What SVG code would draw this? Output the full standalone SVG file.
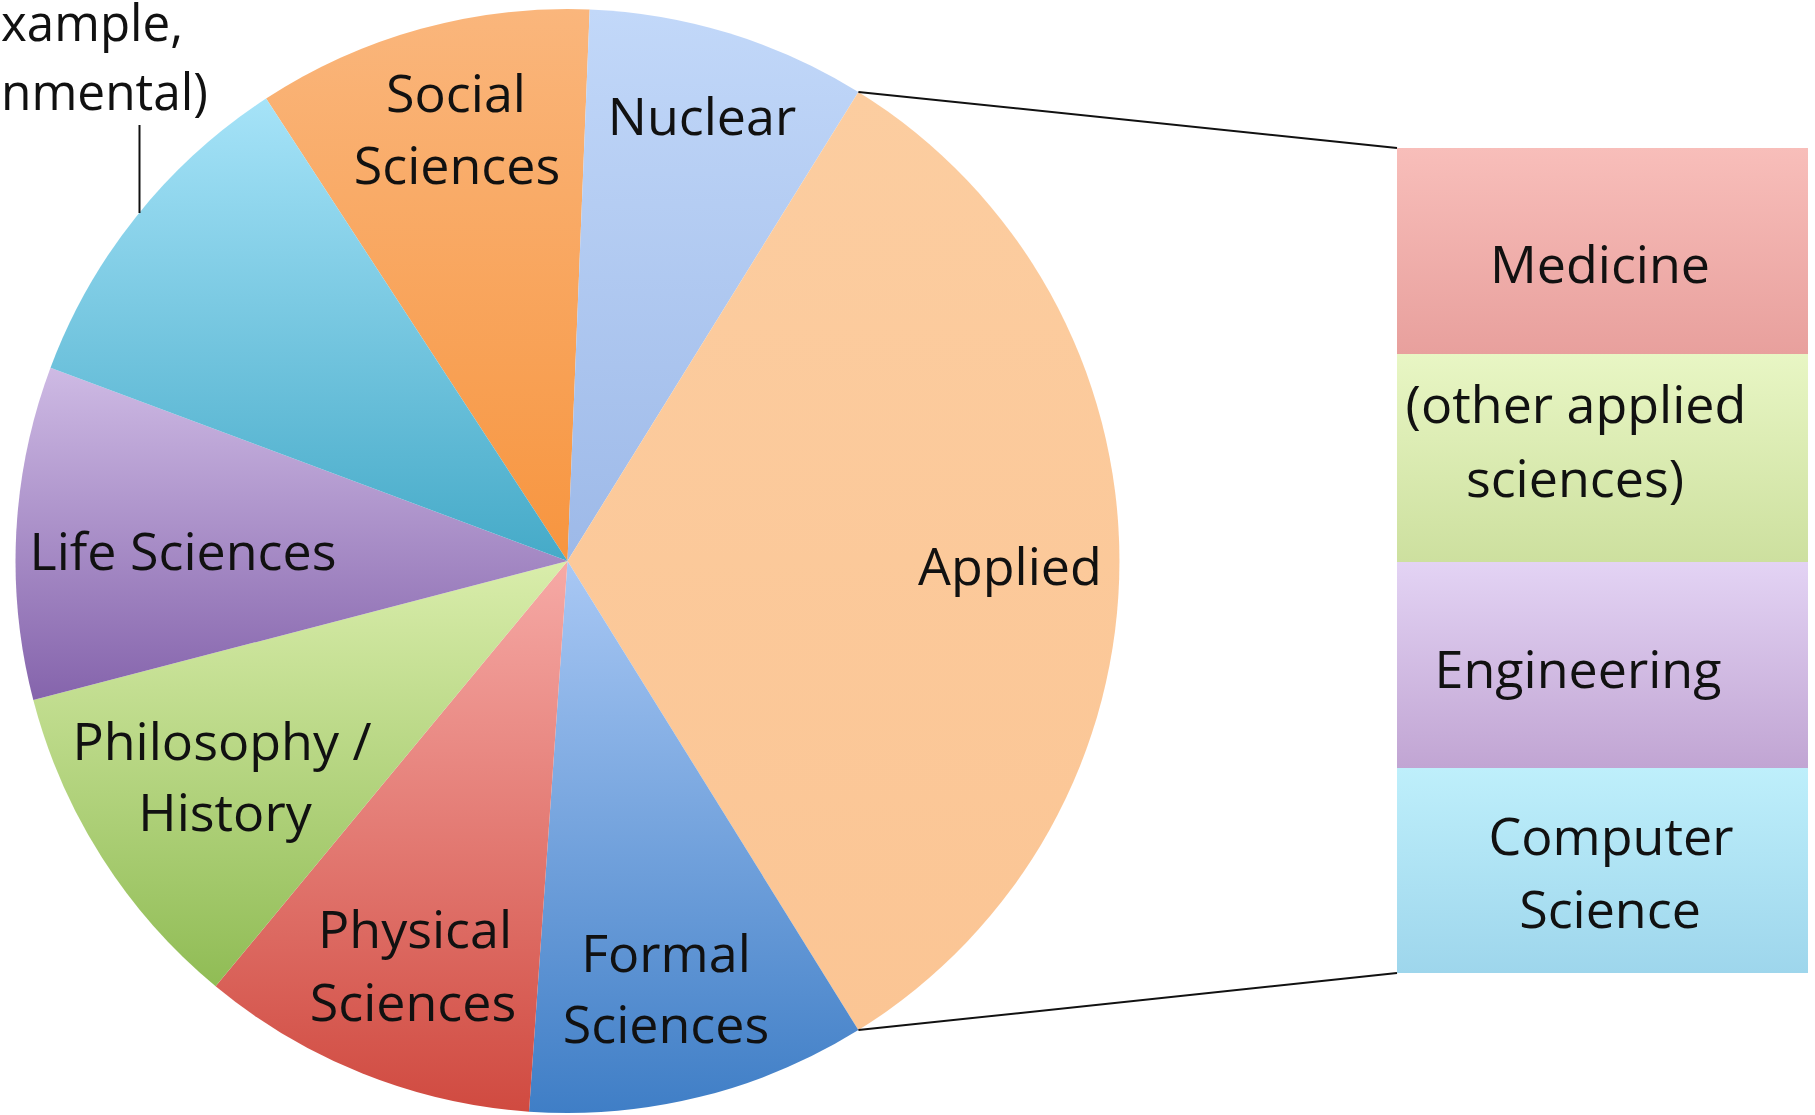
<svg xmlns="http://www.w3.org/2000/svg" width="1815" height="1115" viewBox="0 0 1815 1115">
  <defs>
    <linearGradient id="gSocial" x1="0" y1="0" x2="0" y2="1"><stop offset="0" stop-color="#FAB67C"/><stop offset="1" stop-color="#F7953F"/></linearGradient>
    <linearGradient id="gNuclear" x1="0" y1="0" x2="0" y2="1"><stop offset="0" stop-color="#C2D8F9"/><stop offset="1" stop-color="#9DB9E8"/></linearGradient>
    <linearGradient id="gApplied" x1="0" y1="0" x2="0" y2="1"><stop offset="0" stop-color="#FCCDA0"/><stop offset="1" stop-color="#FBC594"/></linearGradient>
    <linearGradient id="gFormal" x1="0" y1="0" x2="0" y2="1"><stop offset="0" stop-color="#A9C8F4"/><stop offset="1" stop-color="#3F7EC6"/></linearGradient>
    <linearGradient id="gPhysical" x1="0" y1="0" x2="0" y2="1"><stop offset="0" stop-color="#F6AAA6"/><stop offset="1" stop-color="#D04A40"/></linearGradient>
    <linearGradient id="gPhilo" x1="0" y1="0" x2="0" y2="1"><stop offset="0" stop-color="#D9EDAB"/><stop offset="1" stop-color="#90BC55"/></linearGradient>
    <linearGradient id="gLife" x1="0" y1="0" x2="0" y2="1"><stop offset="0" stop-color="#CEBAE4"/><stop offset="1" stop-color="#8564AC"/></linearGradient>
    <linearGradient id="gEnv" x1="0" y1="0" x2="0" y2="1"><stop offset="0" stop-color="#A6E3F8"/><stop offset="1" stop-color="#45AAC8"/></linearGradient>
    <linearGradient id="gMed" x1="0" y1="0" x2="0" y2="1"><stop offset="0" stop-color="#F8BEBA"/><stop offset="1" stop-color="#E8A09D"/></linearGradient>
    <linearGradient id="gOther" x1="0" y1="0" x2="0" y2="1"><stop offset="0" stop-color="#E8F6C4"/><stop offset="1" stop-color="#CDE09F"/></linearGradient>
    <linearGradient id="gEng" x1="0" y1="0" x2="0" y2="1"><stop offset="0" stop-color="#E3D3F4"/><stop offset="1" stop-color="#C1A5D3"/></linearGradient>
    <linearGradient id="gCS" x1="0" y1="0" x2="0" y2="1"><stop offset="0" stop-color="#BEEFFB"/><stop offset="1" stop-color="#9ED6EC"/></linearGradient>
  </defs>
  <style>
    .lbl { font-family: "Open Sans", "Liberation Sans", sans-serif; font-size: 52px; fill: #111111; text-anchor: middle; }
    .lblStart { font-family: "Open Sans", "Liberation Sans", sans-serif; font-size: 52px; fill: #111111; text-anchor: start; }
    .conn { stroke: #111111; stroke-width: 2; fill: none; }
  </style>
  <rect x="0" y="0" width="1815" height="1115" fill="#FFFFFF"/>

  <g id="slice-social">
    <path d="M567.5 561 L266.1 98.6 A552 552 0 0 1 589.7 9.4 Z" fill="url(#gSocial)"/>
    <text class="lbl" x="456" y="112">Social</text>
    <text class="lbl" x="457" y="184">Sciences</text>
  </g>
  <g id="slice-nuclear">
    <path d="M567.5 561 L589.7 9.4 A552 552 0 0 1 858.4 91.9 Z" fill="url(#gNuclear)"/>
    <text class="lbl" x="702" y="135">Nuclear</text>
  </g>
  <g id="slice-applied">
    <path d="M567.5 561 L858.4 91.9 A552 552 0 0 1 858.4 1030.1 Z" fill="url(#gApplied)"/>
    <text class="lbl" x="1010" y="585">Applied</text>
  </g>
  <g id="slice-formal">
    <path d="M567.5 561 L858.4 1030.1 A552 552 0 0 1 529.0 1111.7 Z" fill="url(#gFormal)"/>
    <text class="lbl" x="666" y="972">Formal</text>
    <text class="lbl" x="666" y="1043">Sciences</text>
  </g>
  <g id="slice-physical">
    <path d="M567.5 561 L529.0 1111.7 A552 552 0 0 1 215.6 986.3 Z" fill="url(#gPhysical)"/>
    <text class="lbl" x="415" y="948">Physical</text>
    <text class="lbl" x="413" y="1021">Sciences</text>
  </g>
  <g id="slice-philosophy">
    <path d="M567.5 561 L215.6 986.3 A552 552 0 0 1 33.3 700.1 Z" fill="url(#gPhilo)"/>
    <text class="lbl" x="222" y="760">Philosophy /</text>
    <text class="lbl" x="225" y="831">History</text>
  </g>
  <g id="slice-life">
    <path d="M567.5 561 L33.3 700.1 A552 552 0 0 1 50.5 367.7 Z" fill="url(#gLife)"/>
    <text class="lbl" x="183" y="570">Life Sciences</text>
  </g>
  <g id="slice-environmental">
    <path d="M567.5 561 L50.5 367.7 A552 552 0 0 1 266.1 98.6 Z" fill="url(#gEnv)"/>
    <text class="lblStart" x="1" y="41" textLength="182" lengthAdjust="spacingAndGlyphs">xample,</text>
    <text class="lblStart" x="1" y="110" textLength="207" lengthAdjust="spacingAndGlyphs">nmental)</text>
  </g>

  <g id="applied-breakdown">
    <g id="box-medicine">
      <rect x="1397" y="148" width="411" height="206" fill="url(#gMed)"/>
      <text class="lbl" x="1600" y="283">Medicine</text>
    </g>
    <g id="box-other">
      <rect x="1397" y="354" width="411" height="208" fill="url(#gOther)"/>
      <text class="lbl" x="1576" y="423">(other applied</text>
      <text class="lbl" x="1575" y="497">sciences)</text>
    </g>
    <g id="box-engineering">
      <rect x="1397" y="562" width="411" height="206" fill="url(#gEng)"/>
      <text class="lbl" x="1578" y="688">Engineering</text>
    </g>
    <g id="box-cs">
      <rect x="1397" y="768" width="411" height="205" fill="url(#gCS)"/>
      <text class="lbl" x="1611" y="855">Computer</text>
      <text class="lbl" x="1610" y="928">Science</text>
    </g>
  </g>

  <g id="connectors">
    <line class="conn" x1="858.4" y1="91.9" x2="1397" y2="148"/>
    <line class="conn" x1="858.4" y1="1030.1" x2="1397" y2="973"/>
    <line class="conn" x1="139.5" y1="125" x2="139.5" y2="213" stroke-width="1.5"/>
  </g>
</svg>
